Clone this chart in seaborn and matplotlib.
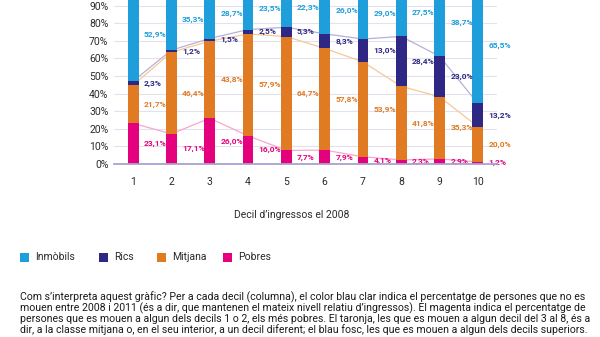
import matplotlib
matplotlib.use("Agg")
import matplotlib.pyplot as plt
import seaborn as sns
import numpy as np
from matplotlib.patches import Rectangle

deciles = [1, 2, 3, 4, 5, 6, 7, 8, 9, 10]
pobres = [23.1, 17.1, 26.0, 16.0, 7.7, 7.9, 4.1, 2.3, 2.9, 1.2]
mitjana = [21.7, 46.4, 43.8, 57.9, 64.7, 57.8, 53.9, 41.8, 35.3, 20.0]
rics = [2.3, 1.2, 1.5, 2.5, 5.3, 8.3, 13.0, 28.4, 23.0, 13.2]
inmobils = [52.9, 35.3, 28.7, 23.5, 22.3, 26.0, 29.0, 27.5, 38.7, 65.5]
series_names = ["Inmòbils", "Rics", "Mitjana", "Pobres"]
yticks = [0, 10, 20, 30, 40, 50, 60, 70, 80, 90]
xlabel = "Decil d’ingressos el 2008"
note_lines = [
    "Com s’interpreta aquest gràfic? Per a cada decil (columna), el color blau clar indica el percentatge de persones que no es",
    "mouen entre 2008 i 2011 (és a dir, que mantenen el mateix nivell relatiu d’ingressos). El magenta indica el percentatge de",
    "persones que es mouen a algun dels decils 1 o 2, els més pobres. El taronja, les que es mouen a algun decil del 3 al 8, és a",
    "dir, a la classe mitjana o, en el seu interior, a un decil diferent; el blau fosc, les que es mouen a algun dels decils superiors.",
]

C_INM = "#1e9fdb"
C_RIC = "#2e2884"
C_MIT = "#e07b23"
C_POB = "#e5007d"
L_POB = "#f7a8cc"
L_MIT = "#f6c898"
L_RIC = "#b5b1d8"

sns.set_theme(style="white")
plt.rcParams["font.family"] = ["Roboto", "DejaVu Sans"]

W, H = 600, 337
fig = plt.figure(figsize=(6, 3.37), dpi=100)
step = 17.6
ax = fig.add_axes([114/W, (H-164)/H, (497-114)/W, (10*step)/H])

layers = [(pobres, C_POB), (mitjana, C_MIT), (rics, C_RIC), (inmobils, C_INM)]
bottom = np.zeros(len(deciles))
tops = []
for vals, col in layers:
    sns.barplot(x=deciles, y=vals, bottom=bottom, native_scale=True, color=col,
                width=0.28, errorbar=None, saturation=1, linewidth=0, ax=ax, zorder=3)
    bottom = bottom + np.array(vals)
    tops.append(bottom.copy())

# connecting lines at segment boundaries
for cum, col in zip(tops[:3], [L_POB, L_MIT, L_RIC]):
    sns.lineplot(x=deciles, y=cum, color=col, linewidth=0.9, ax=ax, zorder=2)

# value labels
start = np.zeros(len(deciles))
for vals, col in layers:
    for i, (d, v) in enumerate(zip(deciles, vals)):
        ax.text(d + 0.28, start[i] + v / 2, f"{v:.1f}%".replace(".", ","),
                color=col, fontsize=6, fontweight="bold", va="center", ha="left", zorder=4)
    start = start + np.array(vals)

ax.set_xlim(0.5, 10.5)
ax.set_ylim(0, 100)
ax.set_yticks(yticks)
ax.set_yticklabels([f"{t}%" for t in yticks])
ax.set_xticks(deciles)
ax.set_xticklabels([str(d) for d in deciles])
ax.tick_params(axis="both", length=0, labelsize=7.5, labelcolor="#2a2a2a")
ax.tick_params(axis="x", pad=9.5)
ax.tick_params(axis="y", pad=4)
ax.grid(axis="y", color="#e3e1f0", linewidth=0.8, zorder=0)
ax.set_axisbelow(True)
for s in ["top", "left", "right"]:
    ax.spines[s].set_visible(False)
ax.spines["bottom"].set_color("#a7a2d2")
ax.spines["bottom"].set_linewidth(1.3)
ax.spines["bottom"].set_zorder(5)
ax.set_xlabel("")
ax.set_ylabel("")

fig.text(292/W, 1 - 215/H, xlabel, ha="center", va="center", fontsize=7.5, color="#2a2a2a")

# legend, drawn item by item
leg_sq_x = [20, 99, 157, 223]
leg_colors = [C_INM, C_RIC, C_MIT, C_POB]
ly = 257
for x0, col, name in zip(leg_sq_x, leg_colors, series_names):
    fig.patches.append(Rectangle((x0/W, (H - ly - 4.5)/H), 9/W, 9/H, facecolor=col,
                                 edgecolor="none", transform=fig.transFigure, figure=fig))
    fig.text((x0 + 15)/W, 1 - ly/H, name, ha="left", va="center", fontsize=7.5, color="#2a2a2a")

for k, line in enumerate(note_lines):
    fig.text(20/W, 1 - (297.5 + k * 10.6)/H, line, ha="left", va="center",
             fontsize=7.6, color="#1a1a1a")

fig.savefig("out.png", dpi=100)
